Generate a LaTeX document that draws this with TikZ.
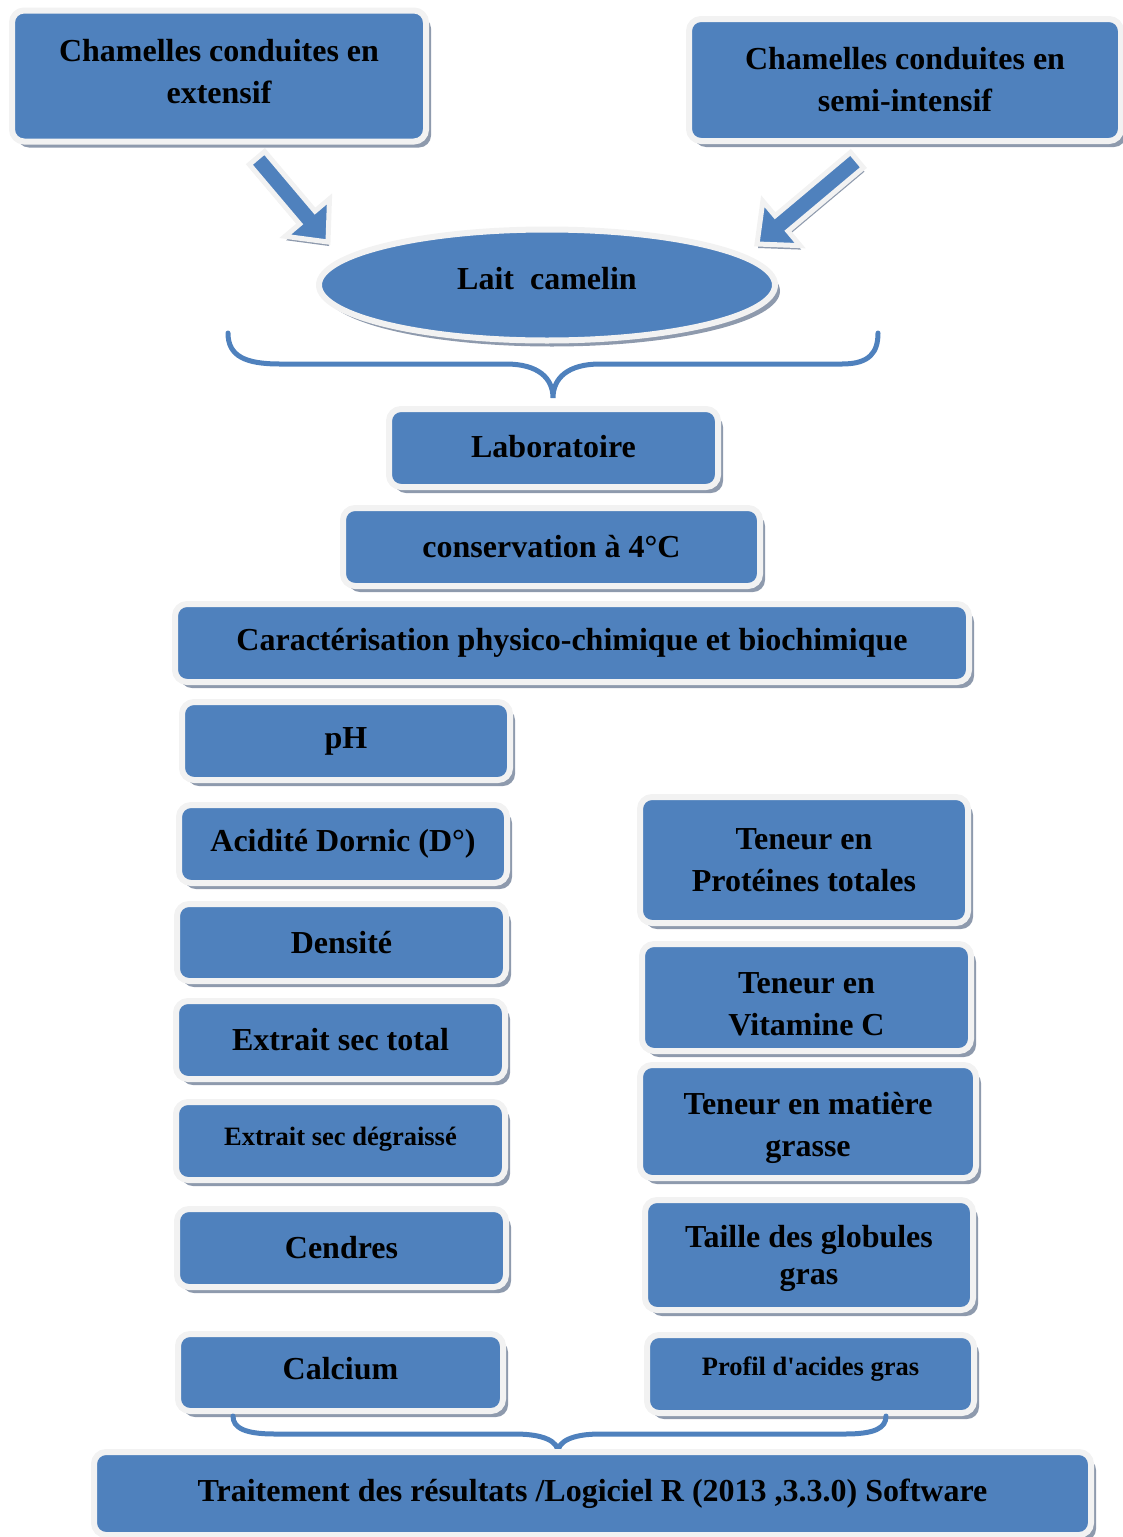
\documentclass[tikz,border=0pt]{standalone}
\usepackage{fontspec}
\setmainfont{Liberation Serif}
\usetikzlibrary{shapes.geometric,shadows,calc}
\definecolor{boxblue}{HTML}{4F81BD}
\definecolor{rimgray}{HTML}{F2F2F2}
\definecolor{shadegray}{HTML}{8E9AAD}
% struts to move the text in its box
\newcommand{\padabove}[1]{\rule{0pt}{#1}}
\newcommand{\padbelow}[1]{\rule[-#1]{0pt}{#1}}
% block arrow from tail (#1) to tip (#2)
\newcommand{\bigarrow}[2]{%
  \coordinate (hb) at ($(#2)!32pt!(#1)$);
  \draw[arrowbox] ($(#1)!10pt!90:(#2)$) -- ($(hb)!10pt!-90:(#1)$) -- ($(hb)!29pt!-90:(#1)$)
    -- (#2) -- ($(hb)!29pt!90:(#1)$) -- ($(hb)!10pt!90:(#1)$) -- ($(#1)!10pt!-90:(#2)$) -- cycle;
}
\begin{document}
\begin{tikzpicture}[x=1pt,y=-1pt,
  box/.style={rectangle,rounded corners=12pt,fill=boxblue,draw=rimgray,line width=6pt,
    inner sep=0pt,align=center,font=\bfseries\fontsize{32}{42}\selectfont,
    drop shadow={shadow xshift=5pt,shadow yshift=-6pt,fill=shadegray,opacity=1}},
  oval/.style={box,ellipse,rounded corners=0pt},
  small/.style={font=\bfseries\fontsize{26.5}{30}\selectfont},
  arrowbox/.style={fill=boxblue,draw=rimgray,line width=5pt,line join=miter,
    drop shadow={shadow xshift=1pt,shadow yshift=-4pt,fill=shadegray,opacity=1}},
  brace/.style={draw=boxblue,line width=5pt,line cap=round}]
\useasboundingbox (0,0) rectangle (1123,1537);

% origine
\node[box,minimum width=414pt,minimum height=131pt] (ext) at (219,76) {Chamelles conduites en\\extensif\padbelow{10pt}};
\node[box,minimum width=432pt,minimum height=122pt] (semi) at (905,80) {Chamelles conduites en\\semi-intensif};
\node[oval,minimum width=456pt,minimum height=111pt] (lait) at (547,285) {Lait \ camelin\padbelow{14pt}};

% fleches
\coordinate (extTail) at (257,158);
\coordinate (extTip) at (328,242);
\coordinate (semiTail) at (857,160);
\coordinate (semiTip) at (757,244);
\bigarrow{extTail}{extTip}
\bigarrow{semiTail}{semiTip}

% accolade du haut
\draw[brace] (228,333) .. controls (228,356) and (245,364) .. (280,364) -- (506,364)
  .. controls (538,364) and (553,378) .. (553,398)
  .. controls (553,378) and (568,364) .. (600,364) -- (842,364)
  .. controls (870,364) and (878,352) .. (878,333);

% laboratoire
\node[box,minimum width=329pt,minimum height=78pt] (lab) at (553.5,448) {Laboratoire\padbelow{4pt}};
\node[box,minimum width=417pt,minimum height=78pt] (cons) at (551.5,547) {conservation à 4°C};
\node[box,minimum width=794pt,minimum height=78pt] (carac) at (572,643) {Caractérisation physico-chimique et biochimique};

% parametres physico-chimiques
\node[box,minimum width=328pt,minimum height=78pt] (ph) at (346,741) {pH};
\node[box,minimum width=328pt,minimum height=78pt] (acid) at (343,844) {Acidité Dornic (D°)};
\node[box,minimum width=329pt,minimum height=77pt] (dens) at (341.5,942.5) {Densité};
\node[box,minimum width=329pt,minimum height=78pt] (est) at (340.5,1040) {Extrait sec total};
\node[box,small,minimum width=329pt,minimum height=78pt] (esd) at (340.5,1141) {Extrait sec dégraissé\padbelow{10pt}};
\node[box,minimum width=329pt,minimum height=78pt] (cend) at (341.5,1248) {Cendres};
\node[box,minimum width=325pt,minimum height=77pt] (calc) at (340.5,1372.5) {Calcium\padbelow{8pt}};

% parametres biochimiques
\node[box,minimum width=328pt,minimum height=126pt] (prot) at (804,860) {Teneur en\\Protéines totales};
\node[box,minimum width=329pt,minimum height=107pt] (vitc) at (806.5,997.5) {\padabove{35pt}Teneur en\\Vitamine C};
\node[box,minimum width=336pt,minimum height=113pt] (mg) at (808,1121.5) {\padabove{36pt}Teneur en matière\\grasse};
\node[box,minimum width=328pt,minimum height=110pt] (taille) at (809,1255) {\padabove{30pt}Taille des globules\\[-5pt]gras};
\node[box,small,minimum width=327pt,minimum height=78pt] (profil) at (810.5,1374) {Profil d\textquotesingle acides gras\padbelow{16pt}};

% accolade du bas
\draw[brace] (233,1416) .. controls (233,1428) and (245,1434) .. (275,1434) -- (515,1434)
  .. controls (545,1434) and (558,1442) .. (558,1452)
  .. controls (558,1442) and (571,1434) .. (600,1434) -- (845,1434)
  .. controls (875,1434) and (886,1428) .. (886,1416);

% traitement
\node[box,minimum width=997pt,minimum height=83pt] (trait) at (592.5,1493.5) {Traitement des résultats /Logiciel R (2013 ,3.3.0) Software};
\end{tikzpicture}
\end{document}
